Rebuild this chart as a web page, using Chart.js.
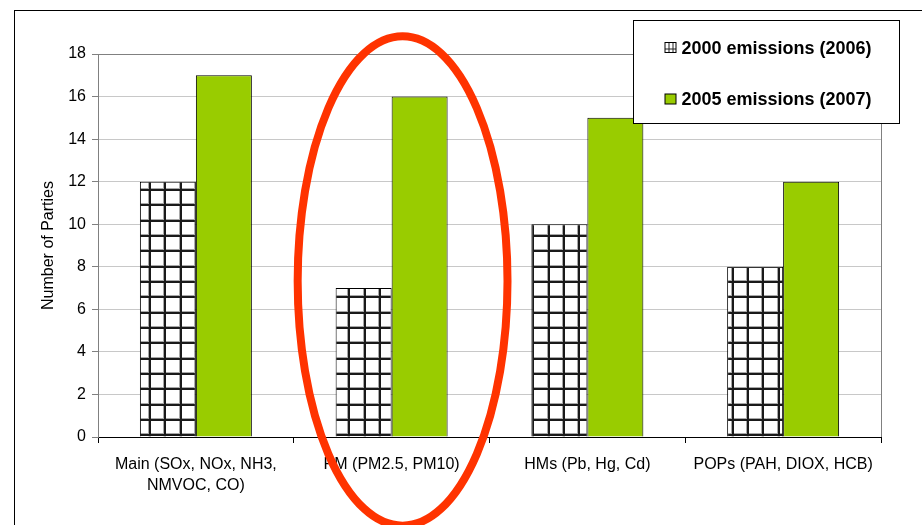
<!DOCTYPE html>
<html>
<head>
<meta charset="utf-8">
<script src="https://cdn.jsdelivr.net/npm/chart.js@4/dist/chart.umd.min.js"></script>
<style>
  html, body { margin: 0; padding: 0; background: #fff; }
  #wrap { width: 922px; height: 525px; position: relative; }
</style>
</head>
<body>
<div id="wrap"><canvas id="c" width="922" height="525"></canvas></div>
<script>
// Reporting categories (multi-line tick labels)
const categories = [
  ['Main (SOx, NOx, NH3,', 'NMVOC, CO)'],
  ['PM (PM2.5, PM10)'],
  ['HMs (Pb, Hg, Cd)'],
  ['POPs (PAH, DIOX, HCB)']
];
// Number of Parties reporting each category
const emissions2000 = [12, 7, 10, 8];
const emissions2005 = [17, 16, 15, 12];
const seriesNames = ['2000 emissions (2006)', '2005 emissions (2007)'];
const yTicks = [0, 2, 4, 6, 8, 10, 12, 14, 16, 18];

const FONT = 'Liberation Sans, Arial, sans-serif';

// Square-grid hatch used for the 2000 series
function makeGridPattern() {
  const t = document.createElement('canvas');
  t.width = 46; t.height = 46;
  const g = t.getContext('2d');
  g.fillStyle = '#fff';
  g.fillRect(0, 0, 46, 46);
  const lines = [0, 15, 31];
  g.fillStyle = '#a8a8a8';
  lines.forEach(p => {
    g.fillRect((p + 10) % 46, 0, 1, 46);
    g.fillRect(0, (p + 4) % 46, 46, 1);
  });
  g.fillStyle = '#1a1a1a';
  lines.forEach(p => {
    g.fillRect((p + 11) % 46, 0, 2, 46);
    g.fillRect(0, (p + 5) % 46, 46, 2);
  });
  return document.getElementById('c').getContext('2d').createPattern(t, 'repeat');
}
const gridPattern = makeGridPattern();

// Outer frame and plot-area border
const framePlugin = {
  id: 'frame',
  beforeDraw(chart) {
    const ctx = chart.ctx;
    ctx.save();
    ctx.fillStyle = '#fff';
    ctx.fillRect(0, 0, chart.width, chart.height);
    ctx.strokeStyle = '#000';
    ctx.lineWidth = 1;
    ctx.strokeRect(14.5, 10.5, chart.width + 20, chart.height + 20);
    ctx.restore();
  },
  beforeDatasetsDraw(chart) {
    const { ctx, chartArea: a } = chart;
    ctx.save();
    ctx.strokeStyle = '#808080';
    ctx.lineWidth = 1;
    ctx.beginPath();
    ctx.moveTo(Math.round(a.right) + 0.5, a.top);
    ctx.lineTo(Math.round(a.right) + 0.5, a.bottom);
    ctx.stroke();
    ctx.restore();
  }
};

// Boxed legend sitting over the upper right of the plot
const boxLegendPlugin = {
  id: 'boxLegend',
  afterDraw(chart) {
    const { ctx, chartArea: a } = chart;
    const x0 = Math.round(a.right) - 247.5, y0 = Math.round(a.top) - 33.5;
    const w = 266, h = 103;
    ctx.save();
    ctx.fillStyle = '#fff';
    ctx.fillRect(x0, y0, w, h);
    ctx.strokeStyle = '#000';
    ctx.lineWidth = 1;
    ctx.strokeRect(x0, y0, w, h);
    ctx.font = 'bold 18px ' + FONT;
    ctx.textBaseline = 'middle';
    ctx.textAlign = 'left';
    chart.data.datasets.forEach((ds, i) => {
      const cy = y0 + 27.5 + i * 51.5;
      const sx = x0 + 31.5;
      ctx.fillStyle = i === 0 ? '#fff' : ds.backgroundColor;
      ctx.fillRect(sx, cy - 5.5, 11, 10);
      if (i === 0) {
        ctx.strokeStyle = '#222';
        ctx.beginPath();
        ctx.moveTo(sx + 4, cy - 5.5); ctx.lineTo(sx + 4, cy + 4.5);
        ctx.moveTo(sx + 8, cy - 5.5); ctx.lineTo(sx + 8, cy + 4.5);
        ctx.moveTo(sx, cy + 1); ctx.lineTo(sx + 11, cy + 1);
        ctx.stroke();
      }
      ctx.strokeStyle = '#000';
      ctx.strokeRect(sx, cy - 5.5, 11, 10);
      ctx.fillStyle = '#000';
      ctx.fillText(ds.label, x0 + 48, cy + 1);
    });
    ctx.restore();
  }
};

// Red ring highlighting the PM category
const highlightPlugin = {
  id: 'highlight',
  afterDraw(chart) {
    const xs = chart.scales.x, ys = chart.scales.y;
    const cx = xs.getPixelForValue(1.056);
    const cy = ys.getPixelForValue(7.33);
    const rx = xs.getPixelForValue(1.592) - cx;
    const ry = ys.getPixelForValue(0) - ys.getPixelForValue(11.5);
    const ctx = chart.ctx;
    ctx.save();
    ctx.strokeStyle = '#ff3300';
    ctx.lineWidth = 8;
    ctx.beginPath();
    ctx.ellipse(cx, cy, rx, ry, 0, 0, Math.PI * 2);
    ctx.stroke();
    ctx.restore();
  }
};

new Chart(document.getElementById('c'), {
  type: 'bar',
  data: {
    labels: categories,
    datasets: [
      {
        label: seriesNames[0],
        data: emissions2000,
        backgroundColor: gridPattern,
        borderColor: '#000',
        borderWidth: 1
      },
      {
        label: seriesNames[1],
        data: emissions2005,
        backgroundColor: '#99cc00',
        borderColor: '#000',
        borderWidth: 1
      }
    ]
  },
  options: {
    responsive: false,
    animation: false,
    layout: { padding: { left: 0, top: 54, right: 41, bottom: 0 } },
    datasets: { bar: { categoryPercentage: 0.572, barPercentage: 1 } },
    plugins: { legend: { display: false }, tooltip: { enabled: false } },
    scales: {
      x: {
        type: 'category',
        offset: true,
        grid: {
          offset: true,
          drawOnChartArea: false,
          drawTicks: true,
          tickLength: 6,
          color: '#000'
        },
        border: { color: '#000', width: 1 },
        ticks: {
          color: '#000',
          font: { family: FONT, size: 16, lineHeight: 1.3 },
          padding: 11,
          maxRotation: 0,
          autoSkip: false
        },
        afterFit(scale) { scale.height = 88; }
      },
      y: {
        min: 0,
        max: 18,
        afterBuildTicks(scale) { scale.ticks = yTicks.map(v => ({ value: v })); },
        grid: {
          color: ctx => (ctx.tick && ctx.tick.value === 18 ? '#808080' : '#c8c8c8'),
          tickColor: '#808080',
          tickLength: 6,
          drawTicks: true
        },
        border: { color: '#808080', width: 1 },
        ticks: {
          color: '#000',
          font: { family: FONT, size: 16 },
          padding: 6
        },
        title: {
          display: true,
          text: 'Number of Parties',
          color: '#000',
          font: { family: FONT, size: 16 },
          padding: { top: 39, bottom: 0 }
        },
        afterFit(scale) { scale.width = 98; }
      }
    }
  },
  plugins: [framePlugin, boxLegendPlugin, highlightPlugin]
});
</script>
</body>
</html>
